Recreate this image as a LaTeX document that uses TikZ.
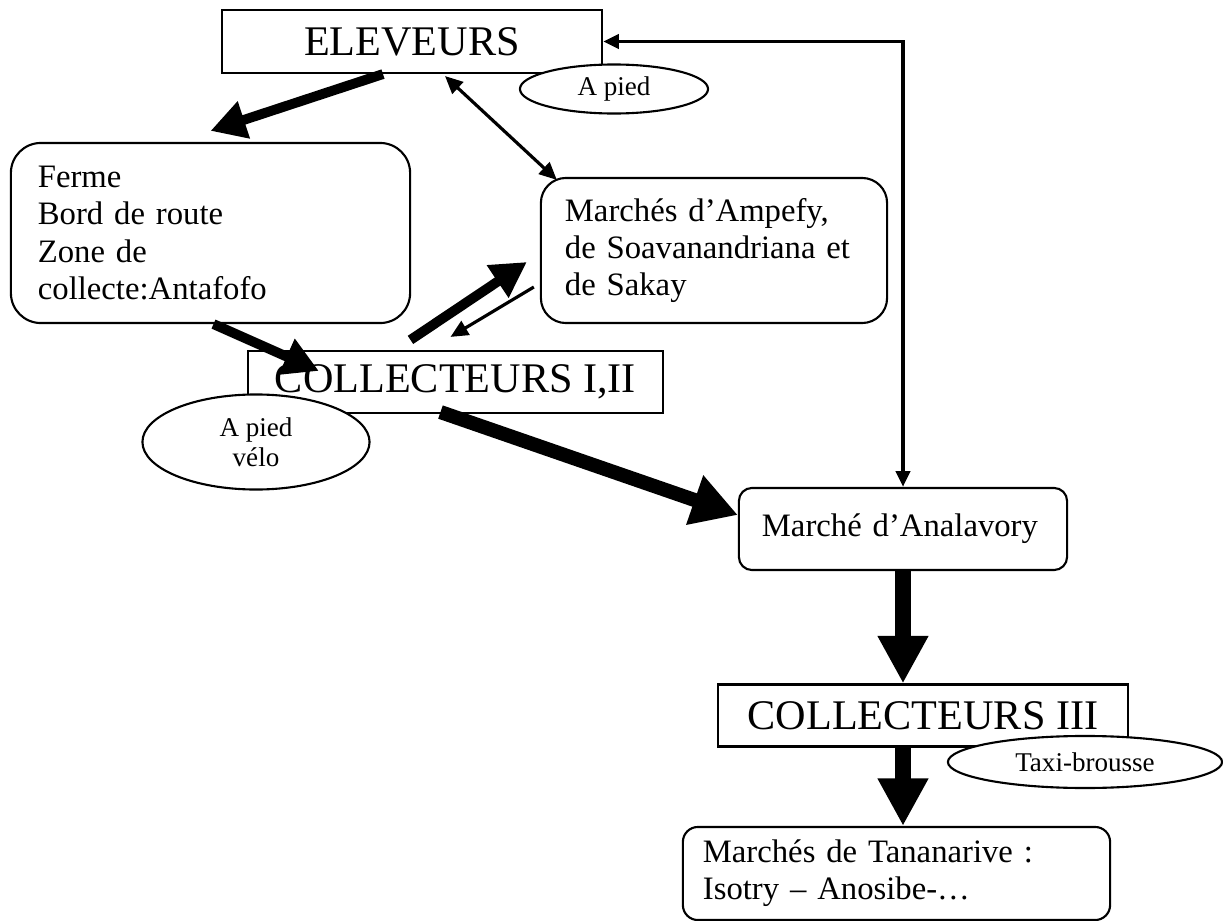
\documentclass[tikz,border=0pt]{standalone}
\usepackage{fontspec}
\setmainfont{Liberation Serif}
\usetikzlibrary{arrows.meta,shapes.geometric}
\tikzset{
  node-box/.style={draw,line width=0.6pt,fill=white,inner sep=0pt,
    font=\fontsize{12}{14}\selectfont},
  node-round/.style={draw,line width=0.6pt,fill=white,align=left,
    inner ysep=0pt,font=\fontsize{9.3}{10.6}\selectfont},
  node-oval/.style={draw,ellipse,line width=0.6pt,fill=white,align=center,
    inner sep=0pt,font=\fontsize{7.7}{8.6}\selectfont},
  arrow-fat/.style={line width=2.8pt,-{Triangle[length=10pt,width=10.5pt]}},
  arrow-big/.style={line width=4pt,-{Triangle[length=13pt,width=14pt]}},
  arrow-huge/.style={line width=4.8pt,-{Triangle[length=13.5pt,width=13.5pt]}},
  arrow-thin/.style={line width=0.9pt,-{Triangle[length=5pt,width=4.5pt]}},
  arrow-both/.style={line width=0.9pt,
    {Triangle[length=5pt,width=4.5pt]}-{Triangle[length=5pt,width=4.5pt]}},
  link/.style={line width=1.1pt,
    {Triangle[length=4.5pt,width=4pt]}-{Triangle[length=4.5pt,width=4pt]}},
}
\begin{document}
\begin{tikzpicture}[x=0.01cm,y=-0.01cm]
  \useasboundingbox (0,0) rectangle (1223,921);
  % les acteurs et les lieux
  \node[node-box,minimum width=3.8cm,minimum height=0.63cm] (eleveurs)
    at (412,41.5) {ELEVEURS};
  \node[node-round,rounded corners=0.3cm,minimum width=3.99cm,
    minimum height=1.8cm,text width=3.45cm] (ferme) at (210.5,233)
    {Ferme\\Bord de route\\Zone de\\collecte:Antafofo};
  \node[node-round,rounded corners=0.25cm,minimum width=3.46cm,
    minimum height=1.45cm,text width=2.98cm] (ampefy) at (714,250.5)
    {Marchés d’Ampefy,\\de Soavanandriana et\\de Sakay};
  \node[node-box,minimum width=4.15cm,minimum height=0.62cm] (coll12)
    at (455.5,382) {COLLECTEURS I,II};
  \node[node-round,rounded corners=0.13cm,minimum width=3.28cm,
    minimum height=0.82cm,text width=2.82cm] (analavory) at (903,529)
    {Marché d’Analavory};
  \node[node-box,minimum width=4.1cm,minimum height=0.62cm] (coll3)
    at (923,715.5) {COLLECTEURS III};
  \node[node-round,rounded corners=0.15cm,minimum width=4.27cm,
    minimum height=0.93cm,text width=3.87cm] (tana) at (896.5,873.5)
    {Marchés de Tananarive :\\Isotry – Anosibe-…};
  % les flux
  \draw[arrow-fat] ([xshift=-0.29cm]eleveurs.south) -- ([yshift=0.11cm]ferme.north);
  \draw[arrow-both] ([xshift=0.33cm,yshift=-0.02cm]eleveurs.south)
    -- ([xshift=0.17cm,yshift=-0.03cm]ampefy.north west);
  \draw[arrow-fat] ([xshift=0.03cm]ferme.south)
    -- ([xshift=0.72cm,yshift=-0.21cm]coll12.north west);
  \draw[arrow-fat] ([xshift=-0.45cm,yshift=0.1cm]coll12.north)
    -- ([xshift=-0.13cm,yshift=-0.115cm]ampefy.west);
  \draw[arrow-thin] ([xshift=-0.06cm,yshift=-0.365cm]ampefy.west)
    -- ([xshift=-0.05cm,yshift=0.13cm]coll12.north);
  \draw[arrow-big] ([xshift=-0.15cm,yshift=0.02cm]coll12.south)
    -- ([yshift=0.14cm]analavory.west);
  \draw[link] (eleveurs.east) -| (analavory.north);
  \draw[arrow-huge] (analavory.south) -- (analavory.south |- coll3.north);
  \draw[arrow-huge] (coll3.south -| analavory.south) -- (tana.north -| analavory.south);
  % moyens de transport
  \node[node-oval,minimum width=1.88cm,minimum height=0.49cm] (pied1)
    at (614,89) {A pied};
  \node[node-oval,minimum width=2.27cm,minimum height=0.95cm] (pied2)
    at (256,442) {A pied\\vélo};
  \node[node-oval,minimum width=2.74cm,minimum height=0.52cm] (taxi)
    at (1085,762) {Taxi-brousse};
\end{tikzpicture}
\end{document}
